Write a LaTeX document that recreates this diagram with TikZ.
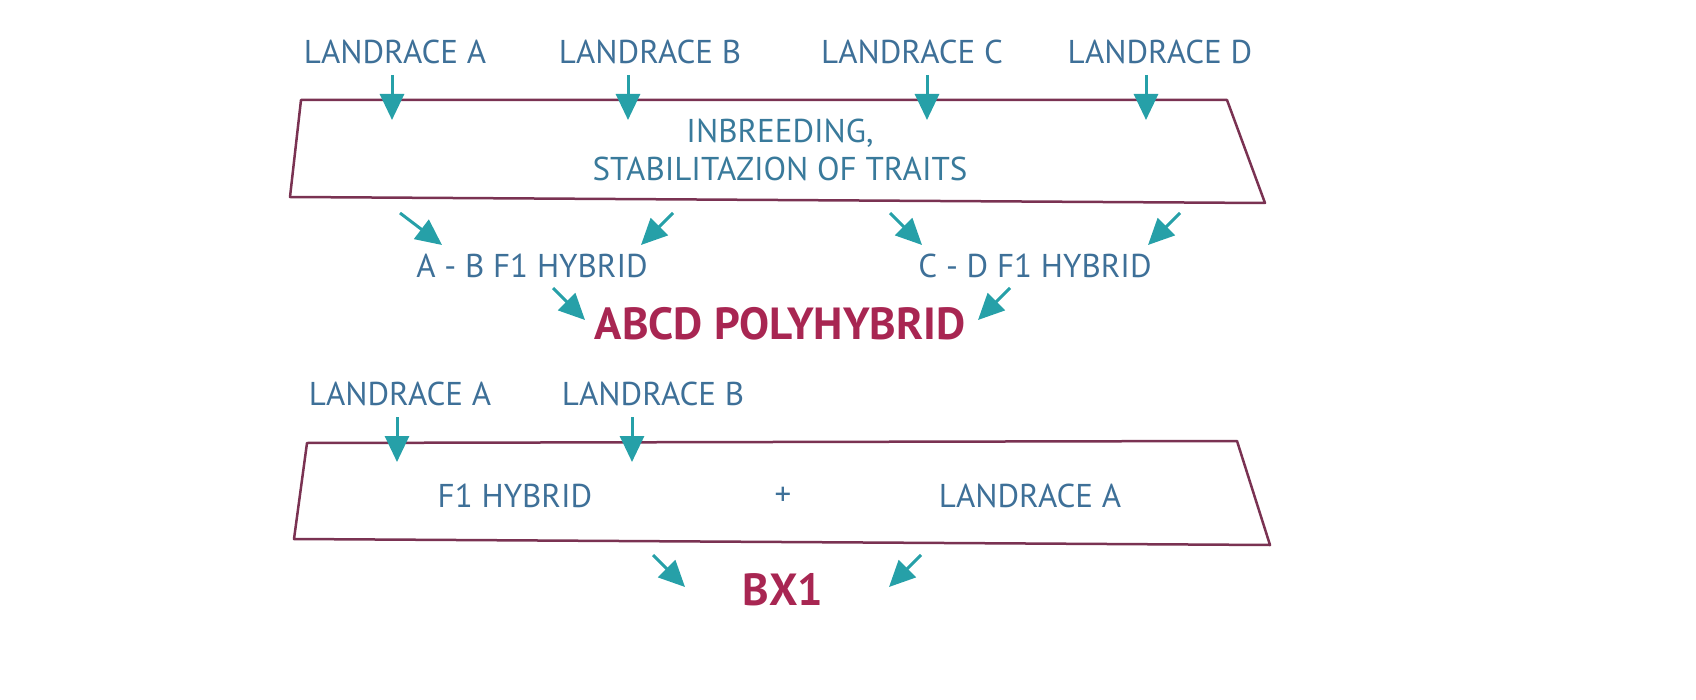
\documentclass[tikz,border=0pt]{standalone}
\usepackage{fontspec}
\setmainfont{PT Sans}
\usetikzlibrary{arrows.meta}
\definecolor{txtblue}{RGB}{62,112,152}
\definecolor{teal2}{RGB}{38,160,168}
\definecolor{crim}{RGB}{168,38,82}
\definecolor{plum}{RGB}{122,50,82}
\tikzset{
  lbl/.style={text=txtblue,font=\fontsize{33}{38}\selectfont,inner sep=0pt},
  big/.style={text=crim,font=\fontsize{45}{50}\selectfont\bfseries,inner sep=0pt},
  arr/.style={-{Triangle[width=24pt,length=26pt]},teal2,line width=3pt},
  frame/.style={plum,line width=2.5pt,line join=round}
}
\begin{document}
\begin{tikzpicture}[x=1pt,y=-1pt]
      \useasboundingbox (0,0) rectangle (1696,700);
      % upper scheme
      \draw[frame] (301,100) -- (1227,100) -- (1265,203) -- (290,197) -- cycle;
      \node[lbl] (la) at (395,52) {LANDRACE A};
      \node[lbl] (lb) at (650,52) {LANDRACE B};
      \node[lbl] (lc) at (912,52) {LANDRACE C};
      \node[lbl] (ld) at (1160,52) {LANDRACE D};
      \node[lbl,align=center,text=txtblue!80!teal2] (inb) at (780,150) {INBREEDING,\\STABILITAZION OF TRAITS};
      \foreach \n/\x in {a/392,b/628,c/927,d/1146} {
        \coordinate (s\n) at (\x,75);
        \coordinate (e\n) at (\x,120);
        \draw[arr] (s\n) -- (e\n);
      }
      \node[lbl] (ab) at (532,266) {A - B F1 HYBRID};
      \node[lbl] (cd) at (1035,266) {C - D F1 HYBRID};
      \node[big] (poly) at (780,324) {ABCD POLYHYBRID};
      \foreach \a/\b/\c/\d in {400/213/442/245, 673/213/641/245, 890/213/922/245, 1180/213/1148/245,
                               553/288/585/320, 1010/288/978/320} {
        \coordinate (p) at (\a,\b);
        \coordinate (q) at (\c,\d);
        \draw[arr] (p) -- (q);
      }
      % lower scheme
      \draw[frame] (307,443) -- (1237,441) -- (1270,545) -- (294,539) -- cycle;
      \node[lbl] (la2) at (400,394) {LANDRACE A};
      \node[lbl] (lb2) at (653,394) {LANDRACE B};
      \foreach \x in {397,632} {
        \coordinate (t) at (\x,417);
        \coordinate (u) at (\x,462);
        \draw[arr] (t) -- (u);
      }
      \node[lbl] (f1) at (515,496) {F1 HYBRID};
      \node[lbl] (plus) at (783,496) {+};
      \node[lbl] (la3) at (1030,496) {LANDRACE A};
      \node[big] (bx) at (783,590) {BX1};
      \coordinate (g1) at (653,555); \coordinate (h1) at (685,587);
      \coordinate (g2) at (921,555); \coordinate (h2) at (889,587);
      \draw[arr] (g1) -- (h1);
      \draw[arr] (g2) -- (h2);
\end{tikzpicture}
\end{document}
